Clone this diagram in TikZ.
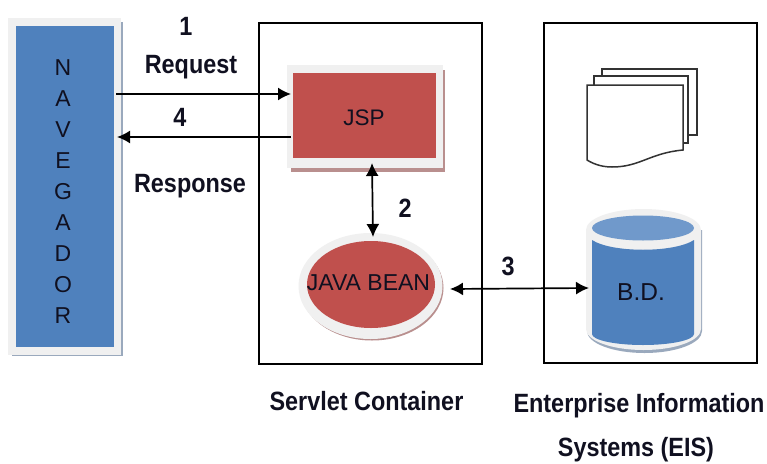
\documentclass[tikz,border=0pt]{standalone}
\usepackage{fontspec}
\usepackage{graphicx}
\setmainfont{Liberation Sans}
\usetikzlibrary{arrows.meta,shapes.geometric,calc}
\definecolor{bluefill}{HTML}{4F81BD}
\definecolor{bluetop}{HTML}{7099CB}
\definecolor{redfill}{HTML}{C0504D}
\definecolor{halo}{HTML}{F0F0F0}
\definecolor{bshadow}{HTML}{9AA9BD}
\definecolor{rshadow}{HTML}{B98F8E}
\definecolor{inktext}{HTML}{101020}
\newcommand{\tallt}[1]{\scalebox{1}[1.13]{#1}}
\tikzset{
  conn/.style={draw=black,line width=1.7pt,-{Latex[length=13pt,width=13pt]}},
  biconn/.style={draw=black,line width=1.7pt,{Latex[length=13pt,width=13pt]}-{Latex[length=13pt,width=13pt]}},
  frame/.style={draw=black,line width=1.5pt,fill=white},
  lab/.style={font=\fontsize{23.4}{25}\selectfont\bfseries,text=inktext,inner sep=0pt},
  inlab/.style={text=inktext,inner sep=0pt},
  doc/.style={draw=black!80,line width=1.5pt,fill=white}
}
\begin{document}
\begin{tikzpicture}[x=1pt,y=-1pt]
\useasboundingbox (0,0) rectangle (767,463);
\fill[white] (0,0) rectangle (767,463);
% containers
\node[frame,minimum width=223pt,minimum height=341pt,inner sep=0pt] (servlet) at (370.5,193.5) {};
\node[frame,minimum width=213pt,minimum height=340pt,inner sep=0pt] (eis) at (650.5,193) {};
% navegador
\fill[bshadow] (12,22) rectangle (122.5,356);
\fill[halo] (8,18) rectangle (121,355);
\node[fill=bluefill,minimum width=98pt,minimum height=321pt,inner sep=0pt] (nav) at (65,186.5) {};
\node[inlab,align=center,font=\fontsize{23}{30.9}\selectfont] (navtext) at (63,191.5) {N\\A\\V\\E\\G\\A\\D\\O\\R};
% JSP
\fill[rshadow] (291,70) rectangle (445,172);
\fill[halo] (287,65) rectangle (443,168);
\node[fill=redfill,minimum width=143pt,minimum height=85pt,inner sep=0pt] (jsp) at (364.5,115.5) {};
\node[inlab,font=\fontsize{22.5}{24}\selectfont] (jsptext) at (364,118) {JSP};
% Java bean
\fill[rshadow] (372,288) ellipse [x radius=71.5pt,y radius=52.5pt];
\fill[halo] (370.5,286) ellipse [x radius=72pt,y radius=53pt];
\node[ellipse,fill=redfill,minimum width=128pt,minimum height=87pt,inner sep=0pt] (bean) at (371,284.5) {};
\node[inlab,font=\fontsize{23}{25}\selectfont] (beantext) at (368.5,283) {JAVA BEAN};
% documents
\draw[doc] (602,69) -- (697,69) -- (697,135) -- (602,135) -- cycle;
\draw[doc] (594,76) -- (688,76) -- (688,143) -- (594,143) -- cycle;
\draw[doc] (587,85) -- (683,85) -- (683,150) .. controls (650,153) and (640,167) .. (612,167) .. controls (600,167) and (592,163) .. (587,160) -- cycle;
% cylinder
\fill[bshadow] (587,230) -- (702,230) -- (702,331) arc[start angle=0,end angle=-180,x radius=57.5pt,y radius=22pt] -- cycle;
\fill[halo] (586,230) arc[start angle=180,end angle=0,x radius=57.5pt,y radius=21pt] -- (701,329) arc[start angle=0,end angle=-180,x radius=57.5pt,y radius=21pt] -- cycle;
\fill[bluefill] (592,240) .. controls (612,253) and (674,253) .. (694,240) -- (694,334) arc[start angle=0,end angle=-180,x radius=51pt,y radius=11pt] -- cycle;
\fill[bluetop] (643,228) ellipse [x radius=51pt,y radius=12.5pt];
\node[inlab,font=\fontsize{24.5}{26}\selectfont] (bd) at (641,292) {B.D.};
% connectors
\coordinate (reqA) at (116,94);
\coordinate (reqB) at (291,94);
\coordinate (resA) at (291,137);
\coordinate (resB) at (117,137);
\coordinate (jspB) at (372,163);
\coordinate (beanT) at (373,237);
\coordinate (beanR) at (450,289);
\coordinate (bdL) at (589,288);
\draw[conn] (reqA) -- (reqB);
\draw[conn] (resA) -- (resB);
\draw[biconn] (jspB) -- (beanT);
\draw[biconn] (beanR) -- (bdL);
% labels
\node[lab] (n1) at (186,26) {\tallt{1}};
\node[lab] (request) at (191,67) {\tallt{Request}};
\node[lab] (n4) at (180,117) {\tallt{4}};
\node[lab] (response) at (190,186) {\tallt{Response}};
\node[lab] (n2) at (405,208) {\tallt{2}};
\node[lab] (n3) at (508,266) {\tallt{3}};
\node[lab] (servcap) at (366.5,401) {\tallt{Servlet Container}};
\node[lab] (eiscap) at (639,406) {\tallt{Enterprise Information}};
\node[lab] (eiscap2) at (636,450) {\tallt{Systems (EIS)}};
\end{tikzpicture}
\end{document}
